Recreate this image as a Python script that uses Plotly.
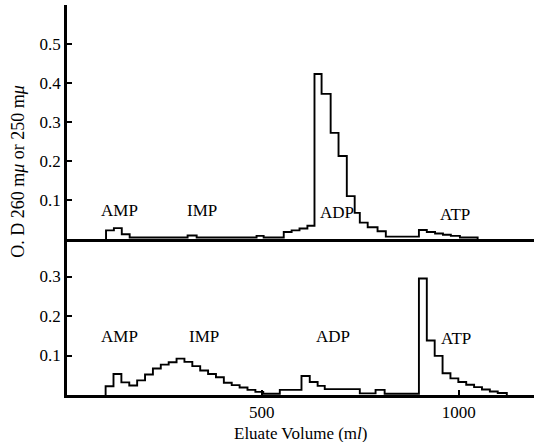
import plotly.graph_objects as go

# ---- data ----
# Upper chromatogram: fraction edges (ml) and optical density per fraction
top_edges = [105, 125, 145, 165, 312, 335, 487, 505, 556, 576, 596, 616, 634, 652,
             675, 695, 716, 736, 749, 769, 794, 815, 899, 919, 940, 960, 980, 1003, 1048]
top_od = [0.022, 0.028, 0.012, 0.004, 0.009, 0.004, 0.008, 0.004, 0.018, 0.022, 0.027,
          0.034, 0.423, 0.372, 0.272, 0.213, 0.110, 0.067, 0.042, 0.030, 0.020, 0.006,
          0.023, 0.018, 0.014, 0.011, 0.008, 0.004]

# Lower chromatogram
bot_edges = [104, 124, 144, 164, 184, 204, 224, 244, 264, 284, 304, 324, 344, 364, 384,
             404, 424, 444, 464, 484, 504, 546, 601, 622, 642, 660, 749, 789, 812, 899,
             919, 939, 959, 979, 999, 1019, 1039, 1059, 1079, 1099, 1122]
bot_od = [0.022, 0.053, 0.032, 0.024, 0.037, 0.052, 0.067, 0.077, 0.083, 0.092, 0.084,
          0.073, 0.062, 0.053, 0.045, 0.031, 0.025, 0.019, 0.013, 0.008, 0.003, 0.013,
          0.048, 0.033, 0.023, 0.015, 0.004, 0.013, 0.003, 0.295, 0.138, 0.099, 0.055,
          0.042, 0.033, 0.026, 0.020, 0.014, 0.009, 0.005]

peak_names = ["AMP", "IMP", "ADP", "ATP"]
top_label_x = [140, 348, 690, 990]
top_label_y = [0.072, 0.072, 0.069, 0.064]
bot_label_x = [140, 353, 680, 992]
bot_label_y = [0.149, 0.149, 0.147, 0.144]

x_ticks = [500, 1000]
top_y_ticks = [0.1, 0.2, 0.3, 0.4, 0.5]
bot_y_ticks = [0.1, 0.2, 0.3]

FONT = "Liberation Serif"


def step_xy(edges, vals):
    xs = [edges[0]] + list(edges)
    ys = [0] + list(vals) + [0]
    return xs, ys


fig = go.Figure()
tx, ty = step_xy(top_edges, top_od)
bx, by = step_xy(bot_edges, bot_od)
fig.add_trace(go.Scatter(x=tx, y=ty, mode="lines", line=dict(color="black", width=1.9, shape="hv"),
                         xaxis="x2", yaxis="y2", showlegend=False))
fig.add_trace(go.Scatter(x=bx, y=by, mode="lines", line=dict(color="black", width=1.9, shape="hv"),
                         xaxis="x", yaxis="y", showlegend=False))

annotations = []
for n, x, y in zip(peak_names, top_label_x, top_label_y):
    annotations.append(dict(x=x, y=y, xref="x2", yref="y2", text=n, showarrow=False,
                            font=dict(family=FONT, size=17, color="black")))
for n, x, y in zip(peak_names, bot_label_x, bot_label_y):
    annotations.append(dict(x=x, y=y, xref="x", yref="y", text=n, showarrow=False,
                            font=dict(family=FONT, size=17, color="black")))
annotations.append(dict(x=-0.105, y=0.575, xref="paper", yref="paper",
                        text="O. D 260 m<i>μ</i> or 250 m<i>μ</i>", textangle=-90,
                        showarrow=False, xanchor="center", yanchor="middle",
                        font=dict(family=FONT, size=18, color="black")))
annotations.append(dict(x=0.499, y=-0.098, xref="paper", yref="paper",
                        text="Eluate Volume (m<i>l</i>)", showarrow=False,
                        xanchor="center", yanchor="middle",
                        font=dict(family=FONT, size=17, color="black")))

axis_common = dict(showgrid=False, zeroline=False, showline=True, linecolor="black",
                   linewidth=2.5, ticks="inside", ticklen=5, tickwidth=1.5, tickcolor="black",
                   tickfont=dict(family=FONT, size=17, color="black"))

fig.update_layout(
    width=534, height=442,
    margin=dict(l=67, r=0, t=5, b=47),
    paper_bgcolor="white", plot_bgcolor="white",
    font=dict(family=FONT, color="black"),
    xaxis=dict(**axis_common, range=[6, 1191], tickvals=x_ticks, anchor="y"),
    xaxis2=dict(**axis_common, range=[6, 1191], tickvals=[], showticklabels=False,
                matches="x", anchor="y2"),
    yaxis=dict(**axis_common, domain=[0, 0.4], range=[0, 0.395], tickvals=bot_y_ticks,
               tickformat=".1f", anchor="x"),
    yaxis2=dict(**axis_common, domain=[0.4, 1.0], range=[0, 0.6], tickvals=top_y_ticks,
                tickformat=".1f", anchor="x2"),
    annotations=annotations,
)

fig.write_html("out.html", config={"displayModeBar": False},
               post_script="document.body.style.margin='0';document.body.style.overflow='hidden';")
